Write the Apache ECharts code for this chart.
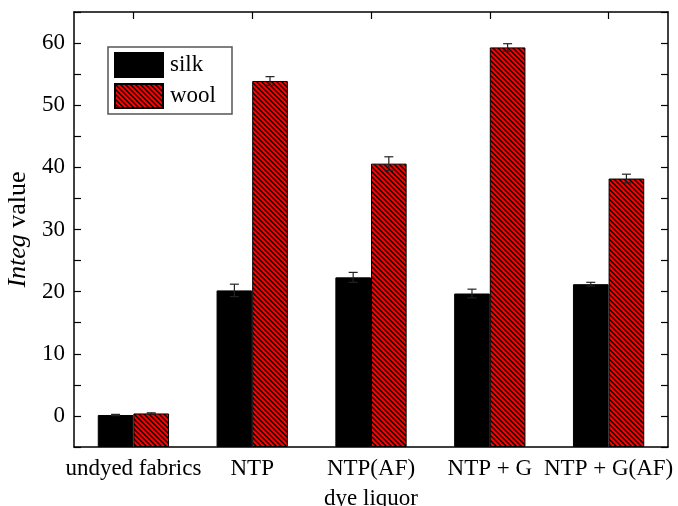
<!DOCTYPE html>
<html>
<head>
<meta charset="utf-8">
<script src="https://cdn.jsdelivr.net/npm/echarts@6/dist/echarts.min.js"></script>
<style>
  html, body { margin: 0; padding: 0; background: #fff; }
  #chart { width: 678px; height: 506px; }
</style>
</head>
<body>
<div id="chart"></div>
<script>
// values
const categories = ['undyed fabrics', 'NTP', 'NTP(AF)', 'NTP + G', 'NTP + G(AF)']
const silk = [0.15, 20.2, 22.3, 19.7, 21.2]
const silkErr = [0.1, 1.0, 0.8, 0.7, 0.3]
const wool = [0.4, 53.9, 40.6, 59.3, 38.2]
const woolErr = [0.1, 0.7, 1.1, 0.6, 0.7]

const FONT = 'Liberation Serif'

// red tile with black "\" hatching
const hatch = (() => {
  const c = document.createElement('canvas')
  c.width = 5
  c.height = 5
  const ctx = c.getContext('2d')
  ctx.fillStyle = '#ff0000'
  ctx.fillRect(0, 0, 5, 5)
  ctx.strokeStyle = '#000'
  ctx.lineWidth = 1.3
  ctx.beginPath()
  ctx.moveTo(-1, -1); ctx.lineTo(6, 6)
  ctx.moveTo(-1, 4); ctx.lineTo(1, 6)
  ctx.moveTo(4, -1); ctx.lineTo(6, 1)
  ctx.stroke()
  return c
})()

const chart = echarts.init(document.getElementById('chart'))

// error bar drawn at the centre of one of the two bars in a group
const errorSeries = (values, errs, side) => ({
  type: 'custom',
  z: 5,
  data: values.map((v, i) => [i, v, errs[i]]),
  renderItem: (params, api) => {
    const idx = api.value(0)
    const v = api.value(1)
    const e = api.value(2)
    const bw = api.size([1, 0])[0] * 0.3
    const top = api.coord([idx, v + e])
    const bot = api.coord([idx, v - e])
    const x = top[0] + side * bw / 2
    const cap = 4.5
    const style = { stroke: '#222', lineWidth: 1.2 }
    return {
      type: 'group',
      children: [
        { type: 'line', shape: { x1: x, y1: top[1], x2: x, y2: bot[1] }, style },
        { type: 'line', shape: { x1: x - cap, y1: top[1], x2: x + cap, y2: top[1] }, style },
        { type: 'line', shape: { x1: x - cap, y1: bot[1], x2: x + cap, y2: bot[1] }, style }
      ]
    }
  }
})

const axisLine = { show: true, onZero: false, lineStyle: { color: '#000', width: 1.5 } }
const tickIn = { show: true, inside: true, length: 7, lineStyle: { color: '#000', width: 1.2 } }

chart.setOption({
  animation: false,
  grid: { left: 74, right: 10, top: 12, bottom: 59, outerBoundsMode: 'none' },
  legend: {
    data: ['silk', 'wool'],
    orient: 'vertical',
    left: 108,
    top: 47,
    itemWidth: 48,
    itemHeight: 24,
    itemGap: 5,
    padding: [5, 16, 5, 6],
    borderColor: '#555',
    borderWidth: 1.5,
    icon: 'rect',
    textStyle: { fontFamily: FONT, fontSize: 23, color: '#000', padding: [0, 0, 0, 2] }
  },
  xAxis: [
    {
      type: 'category',
      data: categories,
      name: 'dye liquor',
      nameLocation: 'middle',
      nameGap: 40,
      nameTextStyle: { fontFamily: FONT, fontSize: 23, color: '#000' },
      axisLine,
      axisTick: { show: false },
      axisLabel: { interval: 0, fontFamily: FONT, fontSize: 23, color: '#000', margin: 10 }
    },
    {
      type: 'category',
      data: categories,
      position: 'top',
      axisLine,
      axisTick: Object.assign({}, tickIn, { alignWithLabel: true }),
      axisLabel: { show: false }
    }
  ],
  yAxis: [
    {
      type: 'value',
      min: -5,
      max: 65,
      interval: 5,
      startValue: -5,
      name: '{i|Integ} value',
      nameLocation: 'middle',
      nameGap: 40,
      nameTextStyle: {
        fontFamily: FONT, fontSize: 26, color: '#000',
        rich: { i: { fontFamily: FONT, fontSize: 26, fontStyle: 'italic', color: '#000' } }
      },
      axisLine,
      axisTick: tickIn,
      axisLabel: {
        fontFamily: FONT, fontSize: 23, color: '#000', margin: 9,
        formatter: v => (v % 10 === 0 ? String(v) : '')
      },
      splitLine: { show: false }
    },
    {
      type: 'value',
      min: -5,
      max: 65,
      interval: 5,
      position: 'right',
      axisLine,
      axisTick: tickIn,
      axisLabel: { show: false },
      splitLine: { show: false }
    }
  ],
  series: [
    {
      name: 'silk',
      type: 'bar',
      data: silk,
      barWidth: '30%',
      barGap: '0%',
      itemStyle: { color: '#000', borderColor: '#000', borderWidth: 1 }
    },
    {
      name: 'wool',
      type: 'bar',
      data: wool,
      barWidth: '30%',
      barGap: '0%',
      itemStyle: { color: { image: hatch, repeat: 'repeat' }, borderColor: '#000', borderWidth: 1 }
    },
    errorSeries(silk, silkErr, -1),
    errorSeries(wool, woolErr, 1)
  ]
})
</script>
</body>
</html>
